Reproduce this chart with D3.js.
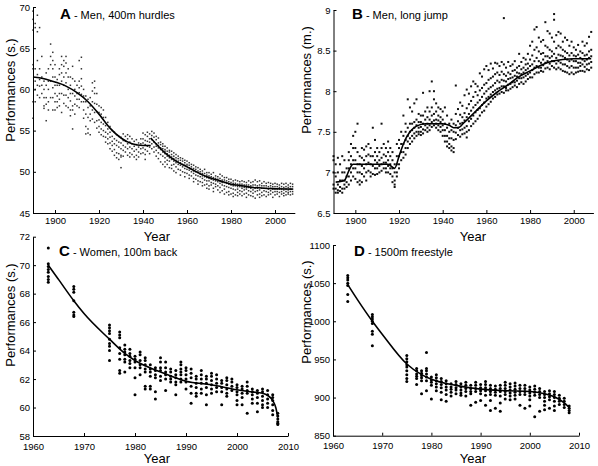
<!DOCTYPE html>
<html><head><meta charset="utf-8">
<script src="https://cdn.jsdelivr.net/npm/d3@7/dist/d3.min.js"></script>
<style>
body{margin:0;background:#fff;}
svg{display:block;font-family:"Liberation Sans",Arial,sans-serif;}
</style></head>
<body><svg id="chart" width="598" height="466"></svg>
<script>
// ---------- DATA ----------
// Panel A: Men, 400m hurdles (year, performances in s.)
const hurdlesPoints = [
[1890,[68.5,69.5,67.2,63,62.5,58.5,56.5]],[1891,[68,67.5,62.5,61,60,58.5]],[1892,[69,67,63.5,61.8,60.5,59.3]],
[1893,[67.5,62.5,61.2,60.4,59]],[1894,[64,61.5,60.5,59.5]],[1895,[61,60,59,58,57.7]],[1896,[62,60.5,59,58.2,56.2]],
[1897,[62.5,61,60,58.5,57.5]],[1898,[65.5,64,63,61,59]],[1899,[64.5,63.5,62.5,61.5,60.2,59,57.5]],[1900,[63,61.5,60.5,59.5,58.5,57.5]],
[1901,[61.2,60.5,59.2,58.5,57.8]],[1902,[62.5,61.8,60.5,59.5,58.8,58]],[1903,[64,63,62,61,59.5,57.2]],[1904,[63.5,62.8,61.5,60.5,59.3,58.3]],
[1905,[64,63.2,62,60.8,59.3,58]],[1906,[62.5,61.5,60,59,57.8]],[1907,[61.5,60.5,59.5,58.6,57.5,56.8]],[1908,[62.8,61.3,59.5,58,57.5,55.2]],
[1909,[61,60,59.2,58.2,57]],[1910,[60.5,59.5,58.8,58]],[1911,[63.5,61,60.2,59.6,58.8,57.8]],[1912,[63.9,62.5,61.3,60.4,59.4,58.5]],
[1913,[60,59.2,58.5,57.5,56.5]],[1914,[59.2,58.5,57,55.5,54.6]],[1915,[58.8,57.8,56.6,55.2,54.7]],[1916,[59,58,57,56.2,54.5]],
[1917,[60.8,59.8,58.5,57.5,56.4]],[1918,[61,60.2,59.5,58.3,57.2,56]],[1919,[59.5,58.2,57.3,56.2,55.3]],[1920,[58,57.2,56.3,55.5,54.8]],
[1921,[57.8,57,56,55.2,54.5]],[1922,[57.5,56.6,55.8,55,54.3]],[1923,[56.6,55.6,54.8,54.2,53.6]],[1924,[56,55.2,54.6,54,53.4]],
[1925,[55.5,54.8,54.2,53.5,52.8]],[1926,[55,54.3,53.7,53.2,52.5]],[1927,[54.8,54,53.4,52.7,52]],[1928,[54.5,53.8,53.2,52.3,51.7]],
[1929,[54.3,53.6,53,52.2,51.5]],[1930,[54.2,53.5,52.8,52,51.8,50.5]],[1931,[54.6,53.8,53.2,52.6,51.9]],[1932,[54.3,53.7,53,52.4]],
[1933,[54.5,54,53.4,52.8,52]],[1934,[54.3,53.6,53,52.3,51.8]],[1935,[54,53.4,52.8,52.1]],[1936,[53.7,53.1,52.5,51.8]],
[1937,[53.9,53.3,52.7,52,51.5]],[1938,[53.5,53,52.4,51.8]],[1939,[54,53.4,52.8,52.2]],[1940,[54.7,54,53.5,52.9,52.3]],
[1941,[54.5,53.8,53.3,52.7,52.1,51.5]],[1942,[54.8,54.3,53.7,53.1,52.5]],[1943,[54.6,54,53.6,53,52.2]],[1944,[54.9,54.4,53.9,53.4,52.8]],
[1945,[54.7,54.2,53.6,53,52.4]],[1946,[54.3,53.9,53.4,53.1,52.6,51.9]],[1947,[54.1,53.5,53.2,52.9,52.3,51.6]],[1948,[53.6,53.3,52.9,52.7,52.1,51.2]],
[1949,[53.4,53.1,52.8,52.4,51.9,50.9]],[1950,[53.1,52.7,52.5,52.2,51.7,51.2,50.6]],[1951,[52.9,52.5,52.2,51.9,51.4,50.9]],[1952,[52.6,52.4,52,51.7,51.3,50.5]],
[1953,[52.5,52.1,51.8,51.5,50.8,50.4]],[1954,[52.3,51.9,51.6,51.3,50.9,50.1]],[1955,[52.1,51.7,51.4,51.1,50.6,49.9]],[1956,[51.9,51.6,51.3,50.9,50.3]],
[1957,[51.7,51.4,51.1,50.8,50.2,49.6]],[1958,[51.6,51.3,50.9,50.6,50]],[1959,[51.4,51.1,50.8,50.4,49.9,49.4]],[1960,[51.3,50.9,50.7,50.3,49.8]],
[1961,[51.1,50.8,50.5,50.2,49.6,49.2]],[1962,[50.9,50.6,50.3,50,49.5]],[1963,[50.8,50.4,50.1,49.8,49.2,48.8]],[1964,[50.6,50.3,50,49.6,49.1]],
[1965,[50.5,50.1,49.9,49.5,48.9,48.5]],[1966,[50.3,50,49.7,49.4,48.8]],[1967,[50.1,49.8,49.5,49.2,48.7,48.3]],[1968,[50.3,49.8,49.4,49,48.4]],
[1969,[49.9,49.6,49.3,48.9,48.5,48]],[1970,[49.9,49.5,49.2,48.9,48.3,47.9]],[1971,[49.7,49.4,49.1,48.7,48.4]],[1972,[49.9,49.3,49,48.6,48,47.6]],
[1973,[49.5,49.2,48.9,48.5,48.2]],[1974,[49.4,49.1,48.8,48.3,47.8]],[1975,[49.7,49.2,48.9,48.6,48.1,47.5]],[1976,[49.5,49,48.7,48.4,47.7]],
[1977,[49.3,49,48.7,48.3,47.9,47.3]],[1978,[49.3,48.9,48.6,48.2,47.5]],[1979,[49.1,48.8,48.5,48.1,47.6,47.2]],[1980,[49.1,48.7,48.4,48,47.3]],
[1981,[48.9,48.6,48.3,47.9,47.4,47]],[1982,[49,48.6,48.3,47.8,47.2]],[1983,[48.9,48.5,48.2,47.9,47.5,47.1]],[1984,[48.8,48.5,48.2,47.7,47.3]],
[1985,[48.9,48.5,48.2,48,47.6,47.1]],[1986,[48.8,48.4,48.1,47.8,47.3]],[1987,[48.7,48.4,48.1,47.9,47.4,46.9]],[1988,[48.9,48.4,48.1,47.7,47.2]],
[1989,[48.7,48.3,48,47.6,47.1]],[1990,[48.8,48.4,48.1,47.8,47.4,47]],[1991,[49,48.4,48,47.6,46.8]],[1992,[48.8,48.3,48,47.7,47.2]],
[1993,[48.9,48.4,48.1,47.8,47.3,46.9]],[1994,[48.6,48.3,48,47.5,47.1]],[1995,[48.8,48.3,48,47.7,47.2]],[1996,[48.6,48.3,48,47.6,47]],
[1997,[48.7,48.2,47.9,47.5,47.2]],[1998,[48.6,48.3,48,47.7,47.3]],[1999,[48.5,48.2,47.9,47.5,46.9]],[2000,[48.6,48.2,47.9,47.6,47.2]],
[2001,[48.5,48.2,47.9,47.6,47.3]],[2002,[48.4,48.1,47.9,47.5,47]],[2003,[48.6,48.2,47.9,47.6,47.3]],[2004,[48.5,48.1,47.8,47.4,47.1]],
[2005,[48.6,48.2,47.9,47.6,47.2]],[2006,[48.4,48.1,47.8,47.5,47.3]],[2007,[48.6,48.2,47.9,47.6,47.2]],[2008,[48.5,48.2,47.9,47.6,47.3]]
];
const hurdlesFit1 = [[1890,61.5],[1895,61.3],[1900,60.9],[1905,60.4],[1910,59.6],[1915,58.5],[1920,57.0],[1925,55.3],[1930,54.1],[1935,53.4],[1940,53.2],[1943.5,53.2]];
const hurdlesFit2 = [[1943.5,54.1],[1950,52.3],[1955,51.3],[1960,50.6],[1965,49.9],[1970,49.3],[1975,48.9],[1980,48.5],[1985,48.3],[1990,48.1],[1995,48.0],[2000,47.95],[2008,47.9]];

// Panel B: Men, long jump (m.)
const jumpPoints = [
[1890,[7.2,7.15,7,6.85,6.8]],[1891,[7.1,6.95,6.8,6.75]],[1892,[7.18,7,6.85,6.78,6.75]],[1893,[7.1,6.9,6.82,6.77]],
[1894,[7.2,7,6.9,6.8,6.75]],[1895,[7.15,7,6.9,6.85,6.8]],[1896,[7.05,6.95,6.88,6.82]],[1897,[7.25,7.15,7.05,6.95,6.85]],
[1898,[7.35,7.2,7.1,7,6.9]],[1899,[7.45,7.3,7.15,7.05,6.95]],[1900,[7.5,7.3,7.15,7.05,6.92]],[1901,[7.6,7.25,7.1,7,6.88]],
[1902,[7.2,7.1,7,6.9,6.85]],[1903,[7.3,7.18,7.08,6.98,6.88]],[1904,[7.28,7.15,7.05,6.95]],[1905,[7.32,7.2,7.1,7,6.9]],
[1906,[7.35,7.22,7.12,7.02]],[1907,[7.3,7.2,7.1,7,6.95]],[1908,[7.55,7.2,7.08,6.98]],[1909,[7.4,7.25,7.15,7.05,6.97]],
[1910,[7.3,7.2,7.12,7.05,6.98]],[1911,[7.25,7.15,7.08,7]],[1912,[7.6,7.3,7.18,7.1,7.02]],[1913,[7.35,7.22,7.12,7.05]],
[1914,[7.3,7.2,7.12,7.05,7]],[1915,[7.38,7.25,7.15,7.08,7]],[1916,[7.3,7.2,7.1,7.05,6.98]],[1917,[7.25,7.15,7.05,6.95,6.88]],
[1918,[7.1,7,6.9,6.85,6.82]],[1919,[7.35,7.2,7.1,7,6.95]],[1920,[7.4,7.3,7.2,7.1,7.05]],[1921,[7.5,7.35,7.25,7.15]],
[1922,[7.7,7.45,7.35,7.25,7.18]],[1923,[7.6,7.5,7.4,7.3,7.22]],[1924,[7.9,7.55,7.45,7.38,7.3]],[1925,[7.8,7.6,7.5,7.42,7.35]],
[1926,[7.75,7.6,7.52,7.45,7.38]],[1927,[7.85,7.62,7.55,7.48,7.42]],[1928,[7.9,7.65,7.58,7.5,7.45]],[1929,[7.72,7.62,7.55,7.5,7.47]],
[1930,[7.7,7.62,7.56,7.5,7.46]],[1931,[7.98,7.7,7.6,7.53,7.48]],[1932,[7.75,7.65,7.58,7.52]],[1933,[7.8,7.68,7.6,7.55,7.5]],
[1934,[8,7.75,7.65,7.58,7.52]],[1935,[8.12,7.8,7.7,7.62,7.56]],[1936,[8,7.9,7.72,7.64,7.58]],[1937,[7.85,7.75,7.65,7.6,7.55]],
[1938,[7.8,7.7,7.64,7.58,7.52]],[1939,[7.78,7.68,7.62,7.56,7.5]],[1940,[7.75,7.65,7.58,7.52,7.45]],[1941,[7.8,7.6,7.52,7.45,7.38]],
[1942,[7.7,7.55,7.45,7.38,7.32]],[1943,[7.6,7.5,7.42,7.35,7.3]],[1944,[7.65,7.52,7.42,7.32,7.27]],[1945,[7.6,7.5,7.4,7.3,7.25]],
[1946,[8.07,7.72,7.58,7.49,7.41]],[1947,[7.78,7.63,7.55,7.46]],[1948,[7.86,7.71,7.6,7.52,7.44]],[1949,[7.82,7.68,7.61,7.53,7.47]],
[1950,[7.95,7.73,7.64,7.55,7.48]],[1951,[8.02,7.79,7.68,7.57,7.5,7.43]],[1952,[7.97,7.84,7.72,7.63,7.52]],[1953,[8.06,7.88,7.76,7.66,7.57]],
[1954,[8.12,7.93,7.8,7.7,7.6]],[1955,[8.09,7.99,7.83,7.74,7.63]],[1956,[8.06,7.95,7.86,7.77,7.66]],[1957,[8.22,8.01,7.89,7.79,7.7]],
[1958,[8.18,8.04,7.93,7.83,7.74]],[1959,[8.27,8.08,7.97,7.86,7.76]],[1960,[8.31,8.1,8,7.91,7.81]],[1961,[8.26,8.14,8.03,7.93,7.84]],
[1962,[8.34,8.16,8.05,7.96,7.87]],[1963,[8.28,8.18,8.07,7.99,7.91]],[1964,[8.35,8.21,8.1,8.01,7.93]],[1965,[8.34,8.23,8.13,8.03,7.96]],
[1966,[8.31,8.2,8.11,8.04,7.97]],[1967,[8.36,8.24,8.14,8.06,7.99]],[1968,[8.9,8.33,8.21,8.13,8.06,7.98]],[1969,[8.29,8.19,8.12,8.04,8.01]],
[1970,[8.36,8.23,8.15,8.08,8.01]],[1971,[8.31,8.21,8.16,8.09,8.03]],[1972,[8.33,8.25,8.17,8.11,8.05]],[1973,[8.37,8.26,8.19,8.11,8.07]],
[1974,[8.29,8.23,8.18,8.13,8.05]],[1975,[8.46,8.31,8.22,8.16,8.09]],[1976,[8.36,8.27,8.21,8.16,8.11]],[1977,[8.41,8.29,8.23,8.17,8.09]],
[1978,[8.39,8.33,8.26,8.19,8.12]],[1979,[8.46,8.34,8.28,8.21,8.15]],[1980,[8.56,8.39,8.31,8.23,8.17]],[1981,[8.61,8.44,8.33,8.26,8.17]],
[1982,[8.76,8.51,8.37,8.29,8.21]],[1983,[8.79,8.54,8.41,8.31,8.23]],[1984,[8.66,8.49,8.37,8.29,8.23]],[1985,[8.61,8.46,8.35,8.29,8.25]],
[1986,[8.63,8.47,8.39,8.32,8.24]],[1987,[8.85,8.56,8.43,8.35,8.28]],[1988,[8.74,8.54,8.43,8.37,8.29]],[1989,[8.71,8.51,8.41,8.34,8.27]],
[1990,[8.66,8.49,8.43,8.37,8.31]],[1991,[8.95,8.88,8.61,8.46,8.37,8.29]],[1992,[8.69,8.53,8.41,8.34,8.27]],[1993,[8.73,8.56,8.45,8.37,8.29]],
[1994,[8.71,8.54,8.44,8.35,8.27]],[1995,[8.61,8.51,8.43,8.33,8.25]],[1996,[8.66,8.49,8.41,8.33,8.24]],[1997,[8.63,8.47,8.39,8.31,8.23]],
[1998,[8.56,8.44,8.37,8.29,8.21]],[1999,[8.61,8.47,8.39,8.31,8.23]],[2000,[8.54,8.44,8.37,8.29,8.21]],[2001,[8.51,8.43,8.37,8.29,8.23]],
[2002,[8.57,8.45,8.35,8.29,8.24]],[2003,[8.49,8.41,8.35,8.31,8.25]],[2004,[8.61,8.47,8.39,8.33,8.25]],[2005,[8.56,8.44,8.37,8.3,8.24]],
[2006,[8.59,8.45,8.39,8.33,8.27]],[2007,[8.67,8.49,8.41,8.34,8.26]],[2008,[8.73,8.51,8.43,8.36,8.29]]
];
const jumpFit = [[1891,6.88],[1895,6.9],[1897,7.02],[1899,7.1],[1905,7.1],[1910,7.1],[1915,7.1],[1918,7.05],[1920,7.2],[1922,7.35],[1925,7.5],[1928,7.57],[1932,7.6],[1940,7.6],[1943,7.58],[1945,7.55],[1947,7.55],[1950,7.62],[1955,7.75],[1960,7.88],[1965,7.99],[1970,8.08],[1975,8.18],[1980,8.25],[1985,8.32],[1990,8.37],[1995,8.39],[2000,8.4],[2008,8.4]];

// Panel C: Women, 100m back (s.)
const backPoints = [
[1963,[71.2,70.1,69.9,69.7,69.5,69.2,69,68.8]],[1968,[68.5,68.3,68.1,67.5,66.7,66.5,66.4]],
[1975,[65.8,65.6,65.4,65.2,64.8,64.5,64.3,64,63.3]],[1977,[65.3,65.1,64.9,64.2,63.8,63.4,62.6,62.4]],
[1978,[64.4,64.1,63.9,63.7,63.4,63.2,62.5]],[1979,[64.1,63.8,63.6,63.3,63.1,62.8]],[1980,[63.6,63.4,63.2,62.8,62.1,60.9]],
[1981,[63.9,63.7,63.3,63,62.8,62.3]],[1982,[63.5,63.3,63,62.7,62.5,61.5,61.3]],[1983,[63,62.7,62.5,62.2,61.5,61.3]],
[1984,[62.8,62.6,62.3,62.1,61.1,60.6]],[1985,[63.5,63.2,62.8,62.6,62.2,61.9]],[1986,[63.2,62.8,62.5,62.3,62,61.2]],
[1987,[62.7,62.5,62.2,62,61.8]],[1988,[62.6,62.3,62.1,61.8,61.6,60.9]],[1989,[63.2,63,62.7,62.5,62.3,62,61.8]],
[1990,[62.8,62.6,62.3,62,61.8,61.3]],[1991,[62.7,62.4,62.1,61.5,61,60.3]],[1992,[62.2,62,61.7,61.4,61,60.8]],
[1993,[62.6,62.3,62,61.7,61.3,61]],[1994,[62.2,62,61.7,61.4,60.9,60.2]],[1995,[62.4,62.2,61.9,61.6,61.3,61]],
[1996,[62.3,62,61.7,61.4,61.1]],[1997,[61.9,61.7,61.4,61.1,60.2]],[1998,[62.1,61.9,61.6,61.3,61,60.8]],
[1999,[62,61.8,61.5,61.2]],[2000,[61.6,61.4,61.1,60.9,60.5,60.2]],[2001,[61.5,61.3,61,60.7,60.2]],
[2002,[61.8,61.5,61.2,61,59.6]],[2003,[61.3,61.1,60.9,60.6,60.3]],[2004,[61.2,61,60.7,60.3,59.7]],
[2005,[61.3,61.1,60.8,60.5,60.2,60]],[2006,[61.2,60.9,60.6,60.3,60]],[2007,[60.9,60.7,60.5,60.2,59.8,59.5]],
[2008,[59.6,59.4,59.2,59,58.9,58.8]]
];
const backFit = [[1963,70.0],[1965,69.0],[1968,67.5],[1970,66.6],[1975,64.8],[1978,63.8],[1980,63.3],[1985,62.5],[1990,61.85],[1995,61.6],[2000,61.25],[2003,61.1],[2005,61.0],[2006,60.85],[2007,60.5],[2007.6,60.0],[2008,59.3]];

// Panel D: 1500m freestyle (s.)
const freePoints = [
[1963,[1060,1057,1054,1050,1047,1035,1026]],[1968,[1009,1006,1003,1000,997,987,983,968]],
[1975,[955,951,947,943,940,935,930,925,921]],[1977,[938,935,931,928,925,917]],[1978,[935,932,929,926,922,905]],
[1979,[959,938,935,931,927,922,909]],[1980,[927,923,920,916,898]],[1981,[930,926,922,918,914,909]],
[1982,[925,921,917,913,907,897]],[1983,[922,918,914,910,904,895]],[1984,[918,914,911,907,902]],
[1985,[921,917,913,910,905]],[1986,[918,914,910,906,903]],[1987,[920,916,912,908,902]],[1988,[916,912,908,905,890]],
[1989,[920,916,912,908,894]],[1990,[917,913,909,905,896]],[1991,[921,917,913,909,903,890]],[1992,[916,912,908,904,896,883]],
[1993,[915,911,907,903,886]],[1994,[916,912,908,902,893,882]],[1995,[920,916,912,908,904,898]],[1996,[918,914,910,906,902,897]],
[1997,[919,915,911,907,903,898]],[1998,[916,912,908,904,890]],[1999,[916,912,908,904,886]],[2000,[914,910,906,902,897,889]],
[2001,[915,911,907,903,875]],[2002,[912,908,904,900,882]],[2003,[908,904,900,895,890,884]],[2004,[909,905,901,897,886]],
[2005,[908,904,900,895,889,883]],[2006,[903,899,895,891]],[2007,[899,895,891,887]],[2008,[889,886,883,880]]
];
const freeFit = [[1963,1048],[1965,1028],[1968,1000],[1970,983],[1975,944],[1978,930],[1980,924],[1985,916],[1990,911],[1995,909],[2000,908],[2003,905],[2005,901],[2007,893],[2008,887]];

// Axis ticks
const ticksA = [45,50,55,60,65,70];
const ticksB = [6.5,7,7.5,8,8.5,9];
const ticksC = [58,60,62,64,66,68,70,72];
const ticksD = [850,900,950,1000,1050,1100];
const yearTicksOld = [1900,1920,1940,1960,1980,2000];
const yearTicksNew = [1960,1970,1980,1990,2000,2010];

// ---------- DRAW ----------
const svg = d3.select("#chart");

function flatten(pts){ const out=[]; pts.forEach(([yr,vals])=>vals.forEach(v=>out.push([yr,v]))); return out; }

function panel(cfg){
  const g = svg.append("g");
  const x = d3.scaleLinear().domain(cfg.xDomain).range(cfg.xRange);
  const y = d3.scaleLinear().domain(cfg.yDomain).range(cfg.yRange);

  const pts = flatten(cfg.points);
  if (cfg.dot === "circle") {
    g.append("g").selectAll("circle").data(pts).join("circle")
      .attr("cx", d=>x(d[0])).attr("cy", d=>y(d[1])).attr("r", cfg.r).attr("fill", cfg.color);
  } else {
    g.append("g").selectAll("rect").data(pts).join("rect")
      .attr("x", d=>x(d[0])-cfg.w/2).attr("y", d=>y(d[1])-cfg.h/2)
      .attr("width", cfg.w).attr("height", cfg.h).attr("fill", cfg.color);
  }
  const line = d3.line().x(d=>x(d[0])).y(d=>y(d[1])).curve(d3.curveMonotoneX);
  cfg.fits.forEach(f=>{
    g.append("path").attr("d", line(f)).attr("fill","none").attr("stroke","#000").attr("stroke-width",1.6);
  });

  const ax = g.append("g").attr("transform",`translate(0,${cfg.yRange[0]})`)
    .call(d3.axisBottom(x).tickValues(cfg.xTicks).tickFormat(d3.format("d")).tickSizeInner(-3).tickSizeOuter(0).tickPadding(cfg.xPad));
  const ay = g.append("g").attr("transform",`translate(${cfg.xRange[0]},0)`)
    .call(d3.axisLeft(y).tickValues(cfg.yTicks).tickFormat(d=>String(d)).tickSizeInner(-3).tickSizeOuter(0).tickPadding(3));
  [ax,ay].forEach(a=>{
    a.selectAll("text").attr("font-family","Liberation Sans, Arial, sans-serif").attr("font-size",9.5).attr("fill","#000");
    a.select(".domain").attr("stroke","#000");
    a.selectAll(".tick line").attr("stroke","#000");
  });

  g.append("text").attr("x", cfg.xLabel[0]).attr("y", cfg.xLabel[1]).attr("text-anchor","middle")
    .attr("font-size",13).text("Year");
  g.append("text").attr("transform",`translate(${cfg.yLabel[0]},${cfg.yLabel[1]}) rotate(-90)`)
    .attr("text-anchor","middle").attr("dominant-baseline","central").attr("font-size",13).text(cfg.yTitle);

  const t = g.append("text").attr("x", cfg.title[0]).attr("y", cfg.title[1]).attr("font-size",11);
  t.append("tspan").attr("font-weight","bold").attr("font-size",15).text(cfg.letter);
  t.append("tspan").text(" - " + cfg.name);
}

panel({points:hurdlesPoints, fits:[hurdlesFit1,hurdlesFit2], xDomain:[1890,2009], xRange:[33,294.8],
  yDomain:[45,70], yRange:[213,7], xTicks:yearTicksOld, yTicks:ticksA, dot:"rect", w:1.5, h:1.5, color:"#333", xPad:4,
  xLabel:[157,241], yLabel:[10,90], yTitle:"Performances (s.)", title:[60,19], letter:"A", name:"Men, 400m hurdles"});

panel({points:jumpPoints, fits:[jumpFit], xDomain:[1890,2009], xRange:[333.5,593.4],
  yDomain:[6.5,9], yRange:[213,10], xTicks:yearTicksOld, yTicks:ticksB, dot:"rect", w:2, h:2, color:"#111", xPad:4,
  xLabel:[473,241], yLabel:[306,80], yTitle:"Performances (m.)", title:[352,19], letter:"B", name:"Men, long jump"});

panel({points:backPoints, fits:[backFit], xDomain:[1960,2010], xRange:[33,288],
  yDomain:[58,72], yRange:[436,236.7], xTicks:yearTicksNew, yTicks:ticksC, dot:"circle", r:1.5, color:"#000", xPad:7,
  xLabel:[157,463], yLabel:[10,315], yTitle:"Performances (s.)", title:[59,256], letter:"C", name:"Women, 100m back"});

panel({points:freePoints, fits:[freeFit], xDomain:[1960,2010], xRange:[333,579],
  yDomain:[850,1100], yRange:[435.7,245], xTicks:yearTicksNew, yTicks:ticksD, dot:"circle", r:1.5, color:"#000", xPad:7,
  xLabel:[473,463], yLabel:[306,312], yTitle:"Performances (s.)", title:[354,256], letter:"D", name:"1500m freestyle"});
</script></body></html>
